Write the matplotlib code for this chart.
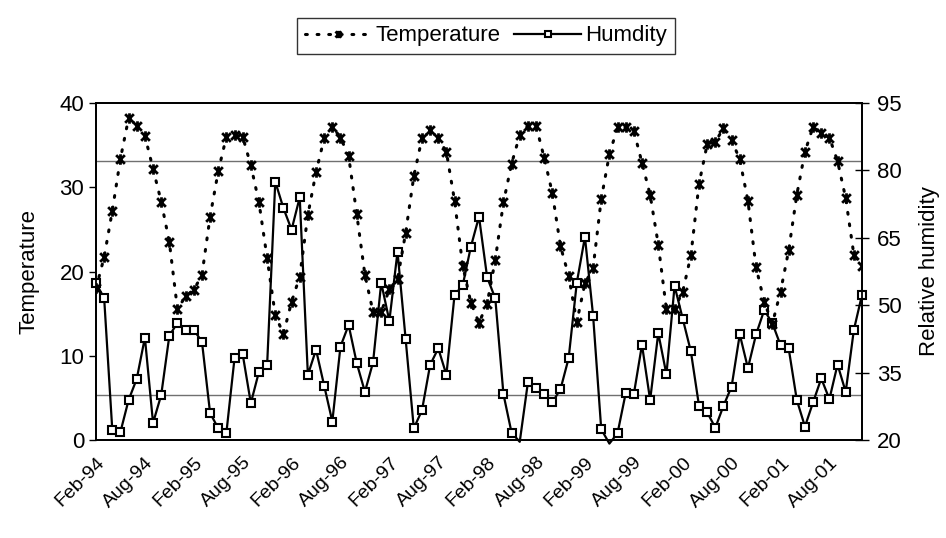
import matplotlib
matplotlib.use("Agg")
import matplotlib.pyplot as plt
from matplotlib.path import Path
import numpy as np

plt.rcParams['font.family'] = ['Liberation Sans', 'DejaVu Sans']

# monthly series, Feb-94 .. Dec-01
temperature = [18.0, 21.7, 27.2, 33.4, 38.2, 37.3, 36.1, 32.2, 28.3, 23.5,
               15.5, 17.1, 17.8, 19.6, 26.5, 31.9, 36.0, 36.2, 36.0, 32.6,
               28.2, 21.6, 14.8, 12.6, 16.4, 19.4, 26.7, 31.8, 35.8, 37.2,
               35.9, 33.7, 26.8, 19.6, 15.2, 15.2, 17.9, 19.1, 24.6, 31.3,
               35.8, 36.8, 35.8, 34.2, 28.4, 20.7, 16.3, 13.9, 16.2, 21.4,
               28.2, 32.8, 36.2, 37.3, 37.3, 33.5, 29.3, 23.0, 19.5, 14.0,
               18.6, 20.4, 28.6, 33.9, 37.1, 37.1, 36.7, 32.9, 29.1, 23.2,
               15.5, 15.6, 17.6, 21.9, 30.4, 35.1, 35.4, 37.0, 35.6, 33.3,
               28.4, 20.5, 16.4, 13.8, 17.6, 22.5, 29.1, 34.2, 37.2, 36.4,
               35.9, 33.1, 28.7, 22.0, 20.7]
humidity = [54.9, 51.6, 22.2, 21.8, 28.9, 33.6, 42.8, 23.8, 30.0, 43.2,
            46.1, 44.5, 44.5, 41.9, 26.0, 22.6, 21.6, 38.2, 39.1, 28.2,
            35.2, 36.7, 77.5, 71.6, 66.8, 74.0, 34.5, 40.1, 32.1, 24.1,
            40.8, 45.6, 37.1, 30.7, 37.3, 55.0, 46.5, 61.9, 42.4, 22.6,
            26.6, 36.7, 40.4, 34.5, 52.3, 54.4, 63.0, 69.7, 56.2, 51.5,
            30.2, 21.6, 19.6, 32.8, 31.5, 30.2, 28.4, 31.3, 38.2, 55.0,
            65.2, 47.7, 22.4, 19.2, 21.5, 30.4, 30.2, 41.2, 28.9, 43.8,
            34.6, 54.3, 47.0, 39.7, 27.6, 26.2, 22.7, 27.6, 31.9, 43.5,
            36.0, 43.5, 48.9, 46.0, 41.1, 40.4, 28.9, 23.0, 28.4, 33.7,
            29.1, 36.8, 30.7, 44.5, 52.3]
tick_labels = ['Feb-94', 'Aug-94', 'Feb-95', 'Aug-95', 'Feb-96', 'Aug-96',
               'Feb-97', 'Aug-97', 'Feb-98', 'Aug-98', 'Feb-99', 'Aug-99',
               'Feb-00', 'Aug-00', 'Feb-01', 'Aug-01']
ref_levels = [82, 30]   # humidity reference lines

x = np.arange(len(temperature))

# excel-like star: an x with a vertical bar through it
star = Path([(-1, -1), (1, 1), (-1, 1), (1, -1), (0, -1.2), (0, 1.2)],
            [Path.MOVETO, Path.LINETO, Path.MOVETO, Path.LINETO,
             Path.MOVETO, Path.LINETO])

fig = plt.figure(figsize=(9.46, 5.38), dpi=100)
ax = fig.add_axes([96/946, 1-440/538, (862-96)/946, (440-103)/538])
ax2 = ax.twinx()

for lv in ref_levels:
    ax2.axhline(lv, color='#707070', lw=1.0, zorder=1)

l1, = ax.plot(x, temperature, color='black', ls=(0, (0.6, 3.2)), lw=2.2,
              dash_capstyle='round', marker=star, ms=7.5, mew=2.0,
              mec='black', label='Temperature', zorder=3)
shown = [i for i, v in enumerate(humidity) if v >= 20]
l2, = ax2.plot(x, humidity, color='black', lw=1.6, marker='s', ms=5.5,
               mfc='white', mec='black', mew=1.5, markevery=shown,
               label='Humdity', clip_on=False, zorder=4)

ax.set_xlim(0, len(temperature) - 1)
ax.set_ylim(0, 40)
ax.set_yticks([0, 10, 20, 30, 40])
ax2.set_ylim(20, 95)
ax2.set_yticks([20, 35, 50, 65, 80, 95])

ax.set_xticks(np.arange(0, len(tick_labels) * 6, 6))
ax.set_xticklabels(tick_labels, rotation=45, ha='right',
                   rotation_mode='anchor', fontsize=14)
ax.tick_params(axis='x', length=0, pad=10)
ax.tick_params(axis='y', labelsize=16, direction='out', length=5, width=1)
ax2.tick_params(axis='y', labelsize=16, direction='inout', length=10,
                width=1, pad=6)

ax.set_ylabel('Temperature', fontsize=16, labelpad=14)
ax2.set_ylabel('Relative humidity', fontsize=16, labelpad=12)

for a in (ax, ax2):
    for s in a.spines.values():
        s.set_linewidth(1.3)
        s.set_color('black')

ax.set_zorder(ax2.get_zorder() + 1)
ax.patch.set_visible(False)

leg = fig.legend([l1, l2], ['Temperature', 'Humdity'], loc='center',
                 bbox_to_anchor=(486/946, 1-36/538), ncol=2, fontsize=16,
                 frameon=True, fancybox=False, edgecolor='black',
                 handlelength=3.0, handletextpad=0.2, columnspacing=0.6,
                 borderpad=0.35, markerscale=0.7)
leg.get_frame().set_linewidth(1.0)

fig.savefig('out.png', dpi=100)
